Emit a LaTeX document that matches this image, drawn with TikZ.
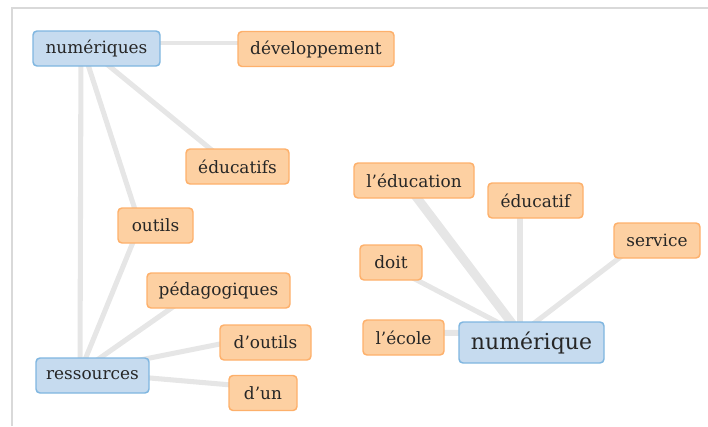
\documentclass[tikz,border=0pt]{standalone}
\usepackage{fontspec}
\setmainfont{DejaVu Serif}
\usetikzlibrary{backgrounds}
\definecolor{edgegray}{HTML}{E6E6E6}
\definecolor{framegray}{HTML}{D9D9D9}
\definecolor{ofill}{HTML}{FDD0A2}
\definecolor{oline}{HTML}{FDB06B}
\definecolor{bfill}{HTML}{C6DBEF}
\definecolor{bline}{HTML}{7FB6E0}
\definecolor{textgray}{HTML}{262626}
\begin{document}
\begin{tikzpicture}[x=0.75pt,y=-0.75pt,
  edge/.style={draw=edgegray, line width=3.8pt},
  box/.style={rounded corners=3pt, line width=1.1pt, inner sep=0pt,
    minimum height=26.25pt, text=textgray, font=\fontsize{12.7}{15}\selectfont},
  orangebox/.style={box, fill=ofill, draw=oline},
  bluebox/.style={box, fill=bfill, draw=bline}]
\useasboundingbox (0,0) rectangle (708,426);
\draw[framegray, line width=1.5pt] (12,426) -- (12,7.5) -- (708,7.5);

% nodes
\node[bluebox, minimum width=95.25pt] (numeriques) at (96.5,48.5) {numériques};
\node[orangebox, minimum width=117pt] (developpement) at (316,49) {développement};
\node[orangebox, minimum width=77.25pt] (educatifs) at (237.5,166.5) {éducatifs};
\node[orangebox, minimum width=56.25pt] (outils) at (155.5,225.5) {outils};
\node[orangebox, minimum width=107.25pt] (pedagogiques) at (218.5,290.5) {pédagogiques};
\node[orangebox, minimum width=68.25pt] (doutils) at (265.5,342.5) {d’outils};
\node[bluebox, minimum width=84.75pt] (ressources) at (92.5,375.5) {ressources};
\node[orangebox, minimum width=51pt] (dun) at (263,393) {d’un};
\node[orangebox, minimum width=90pt] (leducation) at (414,180.5) {l’éducation};
\node[orangebox, minimum width=71.25pt] (educatif) at (535.5,200.5) {éducatif};
\node[orangebox, minimum width=64.5pt] (service) at (657,240.5) {service};
\node[orangebox, minimum width=46.5pt] (doit) at (391,262.5) {doit};
\node[orangebox, minimum width=60.75pt] (lecole) at (403.5,337.5) {l’école};
\node[bluebox, minimum width=108.75pt, minimum height=30.75pt,
  font=\fontsize{16.5}{19}\selectfont] (numerique) at (531.5,342.5) {numérique};

% hub points of the nodes
\coordinate (hNumeriques) at (81,43);
\coordinate (hDeveloppement) at (300,43);
\coordinate (hEducatifs) at (230,165);
\coordinate (hOutils) at (140,225);
\coordinate (hRessources) at (80,372);
\coordinate (hPedagogiques) at (190,295);
\coordinate (hDoutils) at (250,338);
\coordinate (hDun) at (255,387);
\coordinate (hNumerique) at (520,334);
\coordinate (hLeducation) at (405,182);
\coordinate (hEducatif) at (520,200);
\coordinate (hService) at (640,242);
\coordinate (hDoit) at (390,266);
\coordinate (hLecole) at (400,332);

\begin{pgfonlayer}{background}
\draw[edge, line width=3pt] (hNumeriques) -- (hDeveloppement);
\draw[edge] (hNumeriques) -- (hEducatifs);
\draw[edge] (hNumeriques) -- (hOutils);
\draw[edge] (hNumeriques) -- (hRessources);
\draw[edge] (hRessources) -- (hOutils);
\draw[edge] (hRessources) -- (hPedagogiques);
\draw[edge] (hRessources) -- (hDoutils);
\draw[edge] (hRessources) -- (hDun);
\draw[edge, line width=6.8pt] (hNumerique) -- (hLeducation);
\draw[edge] (hNumerique) -- (hEducatif);
\draw[edge] (hNumerique) -- (hService);
\draw[edge] (hNumerique) -- (hDoit);
\draw[edge, line width=4.5pt] (hNumerique) -- (hLecole);
\end{pgfonlayer}
\end{tikzpicture}
\end{document}
